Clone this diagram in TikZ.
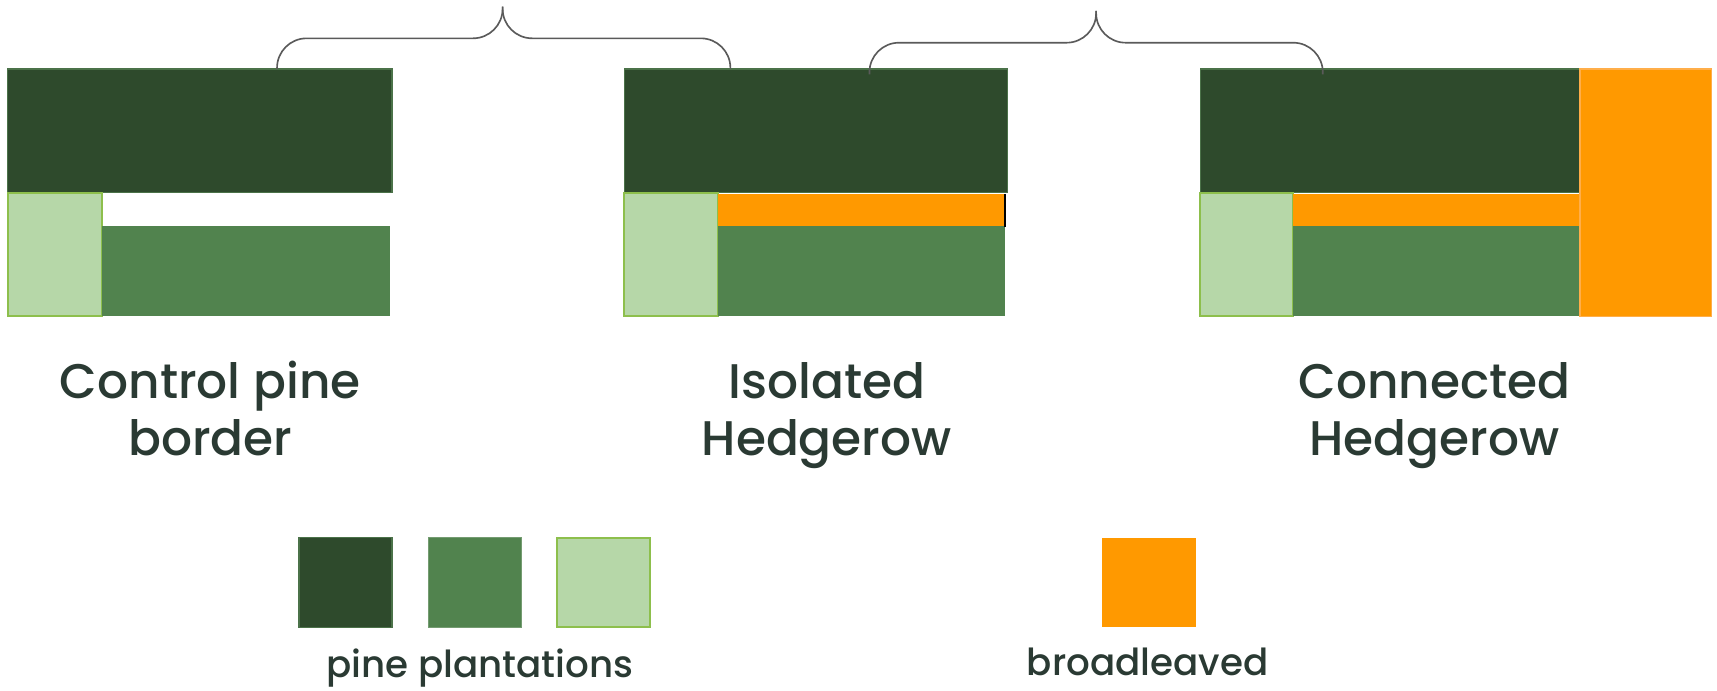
\documentclass[tikz,border=0pt]{standalone}
\usepackage{fontspec}
\setmainfont{Poppins Medium}
\definecolor{darkg}{HTML}{2E4A2C}
\definecolor{darkgb}{HTML}{4B7249}
\definecolor{midg}{HTML}{51834E}
\definecolor{lightg}{HTML}{B6D7A8}
\definecolor{lightgb}{HTML}{8DBF4C}
\definecolor{orng}{HTML}{FF9900}
\definecolor{orngb}{HTML}{FFAE4A}
\definecolor{txt}{HTML}{2A3A33}
\definecolor{brc}{HTML}{5A5A5A}
\tikzset{
  box/.style={rectangle, inner sep=0pt, outer sep=0pt, anchor=north west},
  darkbox/.style={box, fill=darkg, draw=darkgb, line width=0.6pt},
  midbox/.style={box, fill=midg},
  lightbox/.style={box, fill=lightg, draw=lightgb, line width=0.9pt},
  orbox/.style={box, fill=orng},
  orbigbox/.style={box, fill=orng, draw=orngb, line width=0.6pt},
  bracepath/.style={draw=brc, line width=0.75pt, rounded corners=13.5pt},
  lab/.style={font=\fontsize{22.2}{26}\selectfont, text=txt, align=center, anchor=base},
  leglab/.style={font=\fontsize{17}{20}\selectfont, text=txt, anchor=base},
}
\begin{document}
\begin{tikzpicture}[x=0.5pt, y=-0.5pt]
\useasboundingbox (0,0) rectangle (1568,631);
% Panel 1
\node[darkbox, minimum width=175.5pt, minimum height=56.5pt] (d1) at (7,63) {};
\node[lightbox, minimum width=43pt, minimum height=56.5pt] (l1) at (7,176) {};
\node[midbox, minimum width=131.5pt, minimum height=41.5pt] (m1) at (93,206) {};
% Panel 2
\node[darkbox, minimum width=175pt, minimum height=56.5pt] (d2) at (570,63) {};
\node[lightbox, minimum width=43pt, minimum height=56.5pt] (l2) at (570,176) {};
\node[orbox, minimum width=131pt, minimum height=15pt] (o2) at (656,177) {};
\node[midbox, minimum width=131pt, minimum height=41.5pt] (m2) at (656,206) {};
\draw[black, line width=0.8pt] (o2.north east) -- (o2.south east);
% Panel 3
\node[darkbox, minimum width=173.5pt, minimum height=56.5pt] (d3) at (1096,63) {};
\node[lightbox, minimum width=42.5pt, minimum height=56.5pt] (l3) at (1096,176) {};
\node[orbox, minimum width=131pt, minimum height=15pt] (o3) at (1181,177) {};
\node[midbox, minimum width=131pt, minimum height=41.5pt] (m3) at (1181,206) {};
\node[orbigbox, minimum width=60pt, minimum height=113pt] (b3) at (1443,63) {};
% Braces
\coordinate (b1l) at (253,63);
\coordinate (b1t) at (459,6);
\coordinate (b1r) at (667,63);
\draw[bracepath] (b1l) -- (253,35) -- (459,35) -- (b1t);
\draw[bracepath] (b1t) -- (459,35) -- (667,35) -- (b1r);
\coordinate (b2l) at (794,68);
\coordinate (b2t) at (1001,10);
\coordinate (b2r) at (1208,68);
\draw[bracepath] (b2l) -- (794,39) -- (1001,39) -- (b2t);
\draw[bracepath] (b2t) -- (1001,39) -- (1208,39) -- (b2r);
% Labels
\node[lab] (t1) at (192,416) {Control pine\\border};
\node[lab] (t2) at (755,416) {Isolated\\Hedgerow};
\node[lab] (t3) at (1310,416) {Connected\\Hedgerow};
% Legend
\node[darkbox, minimum width=42.5pt, minimum height=41pt] (k1) at (273,491) {};
\node[midbox, draw=midg!80!white, line width=0.4pt, minimum width=42.5pt, minimum height=41pt] (k2) at (391,491) {};
\node[lightbox, minimum width=42.5pt, minimum height=41pt] (k3) at (509,491) {};
\node[orbox, minimum width=43pt, minimum height=41pt] (k4) at (1006,491) {};
\node[leglab] (kt1) at (438,619) {pine plantations};
\node[leglab] (kt2) at (1048,617) {broadleaved};
\end{tikzpicture}
\end{document}
